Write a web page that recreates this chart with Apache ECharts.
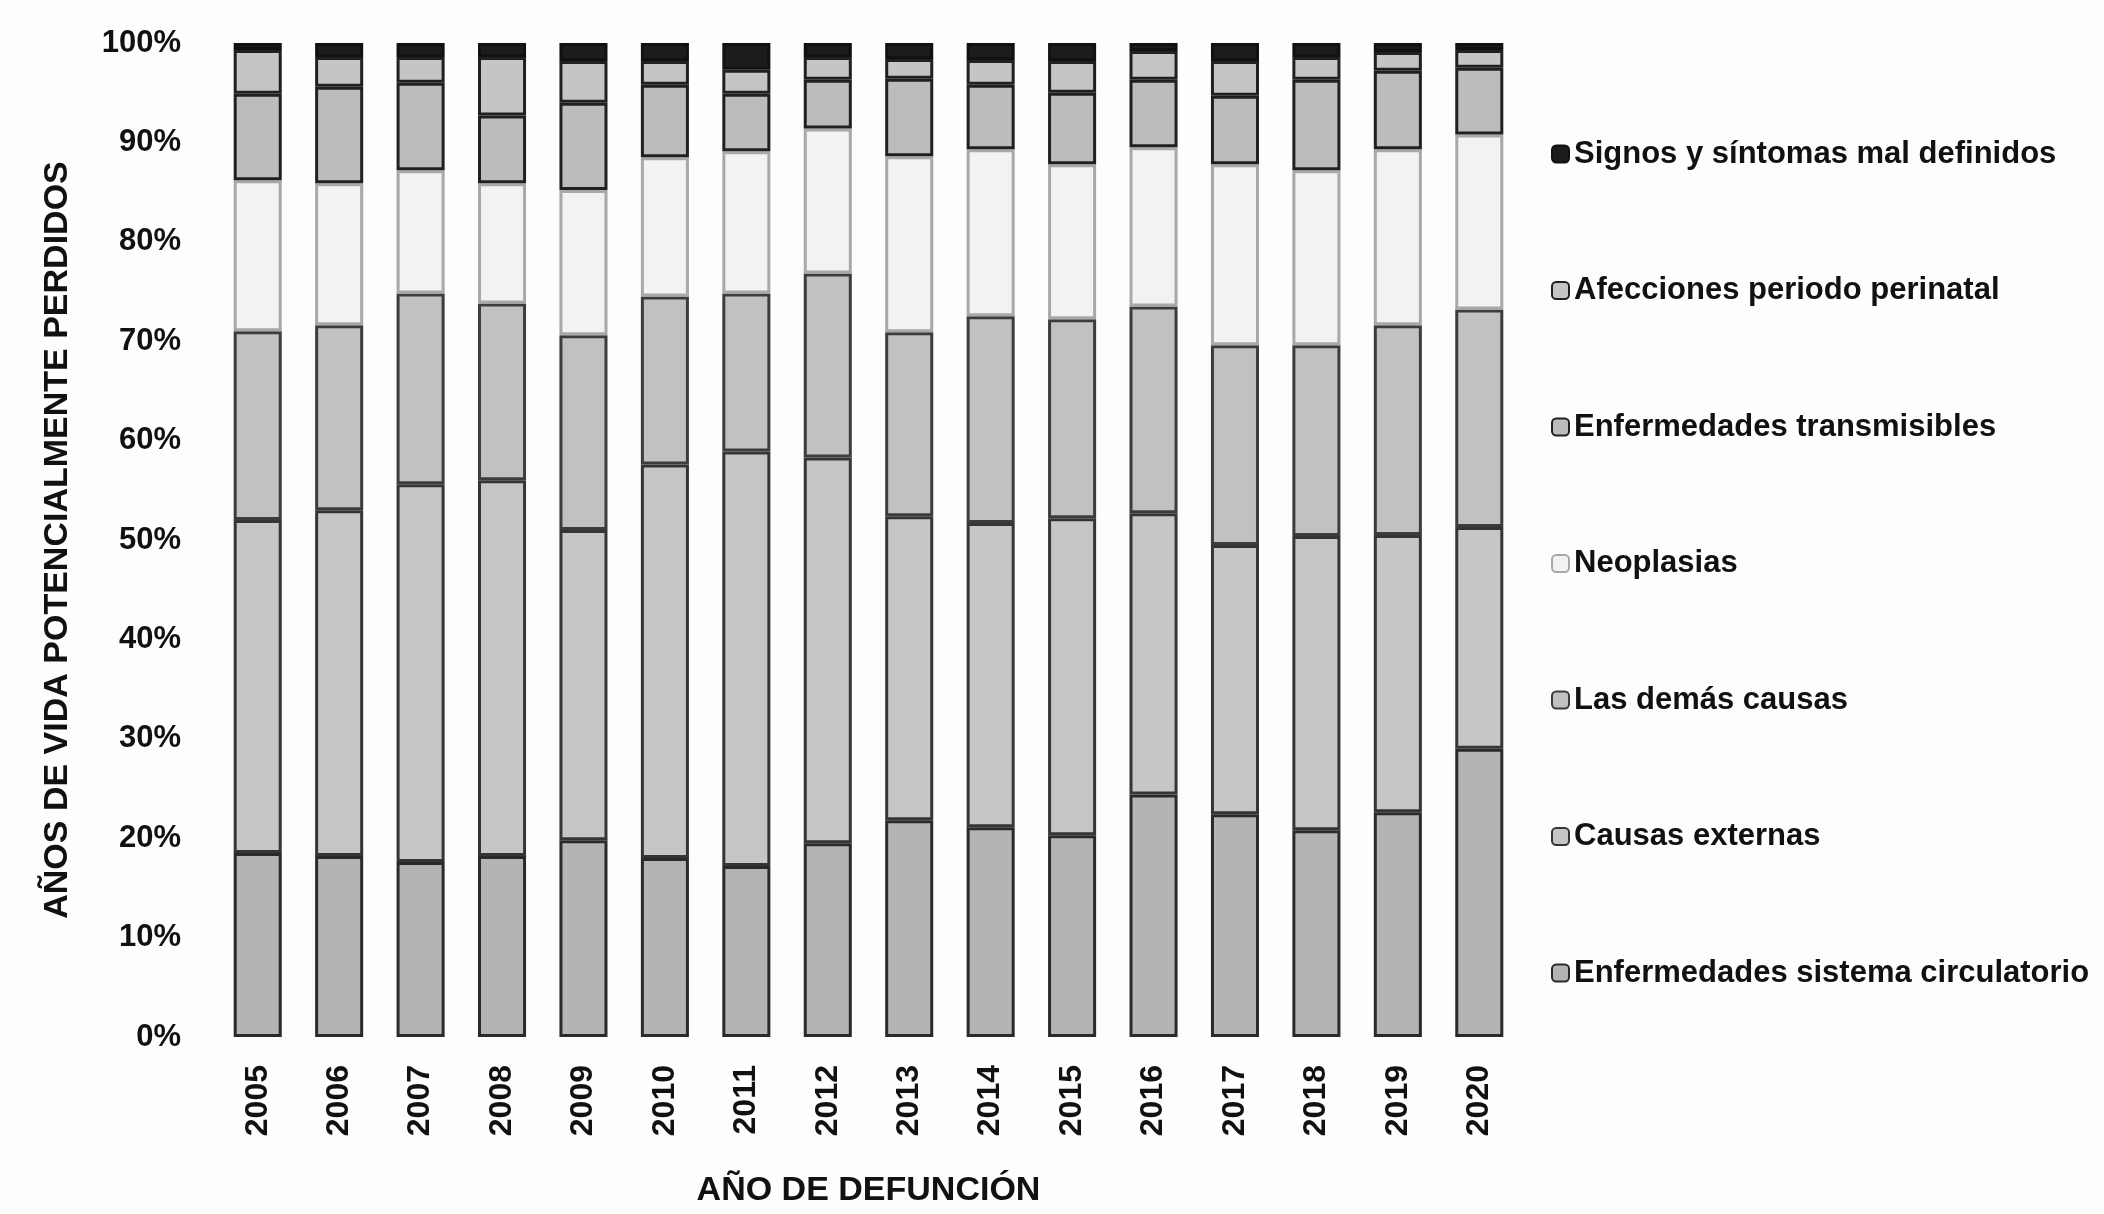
<!DOCTYPE html>
<html>
<head>
<meta charset="utf-8">
<script src="https://cdn.jsdelivr.net/npm/echarts@6/dist/echarts.min.js"></script>
<style>
html,body{margin:0;padding:0;background:#fdfdfd;}
#chart{width:2104px;height:1214px;}
</style>
</head>
<body>
<div id="chart"></div>
<script>
const years = ['2005','2006','2007','2008','2009','2010','2011','2012','2013','2014','2015','2016','2017','2018','2019','2020'];
const yTicks = [0,10,20,30,40,50,60,70,80,90,100];

const circulatorio   = [18.5,18.2,17.6,18.2,19.8,18.0,17.2,19.5,21.8,21.1,20.3,24.4,22.4,20.8,22.6,29.0];
const externas       = [33.5,34.8,38.0,37.8,31.2,39.6,41.7,38.8,30.6,30.6,31.9,28.3,27.1,29.6,27.9,22.3];
const demas          = [19.0,18.6,19.2,17.8,19.6,16.9,15.9,18.5,18.5,20.8,20.0,20.8,20.1,19.2,21.1,21.9];
const neoplasias     = [15.2,14.3,12.4,12.1,14.6,14.0,14.3,14.6,17.7,16.8,15.6,16.0,18.2,17.6,17.7,17.6];
const transmisibles  = [8.7,9.7,8.8,6.8,8.8,7.3,5.8,4.9,7.8,6.5,7.2,6.8,6.9,9.1,7.9,6.7];
const perinatal      = [4.4,3.0,2.6,5.9,4.2,2.4,2.4,2.3,2.0,2.5,3.2,2.9,3.5,2.3,1.9,1.8];
const signos         = [0.7,1.4,1.4,1.4,1.8,1.8,2.7,1.4,1.6,1.7,1.8,0.8,1.8,1.4,0.9,0.7];

const seriesNames = [
  'Enfermedades sistema circulatorio',
  'Causas externas',
  'Las demás causas',
  'Neoplasias',
  'Enfermedades transmisibles',
  'Afecciones periodo perinatal',
  'Signos y síntomas mal definidos'
];
const seriesData = [circulatorio, externas, demas, neoplasias, transmisibles, perinatal, signos];
const fills   = ['#b4b4b4','#c6c6c6','#c1c1c1','#f3f1f3','#bcbcbc','#c5c5c5','#1c1c1c'];
const borders = ['#2a2a2a','#353535','#3c3c3c','#a8a8a8','#202020','#202020','#111111'];

const font = "'Liberation Sans',Arial,sans-serif";

const chart = echarts.init(document.getElementById('chart'));
chart.setOption({
  backgroundColor: '#fdfdfd',
  animation: false,
  grid: {left: 217, right: 584, top: 43, bottom: 177, containLabel: false},
  legend: {
    orient: 'vertical',
    left: 1546,
    top: 133,
    itemWidth: 17,
    itemHeight: 17,
    itemGap: 104.5,
    data: seriesNames.slice().reverse(),
    itemStyle: {borderWidth: 2},
    textStyle: {fontFamily: font, fontWeight: 'bold', fontSize: 31, color: '#111', lineHeight: 32}
  },
  xAxis: {
    type: 'category',
    data: years,
    name: 'AÑO DE DEFUNCIÓN',
    nameLocation: 'middle',
    nameGap: 137,
    nameTextStyle: {fontFamily: font, fontWeight: 'bold', fontSize: 34, color: '#111', verticalAlign: 'top'},
    axisLine: {show: false},
    axisTick: {show: false},
    axisLabel: {rotate: 90, interval: 0, margin: 28, fontFamily: font, fontWeight: 'bold', fontSize: 32, color: '#111'}
  },
  yAxis: {
    type: 'value',
    min: yTicks[0],
    max: yTicks[yTicks.length - 1],
    interval: yTicks[1] - yTicks[0],
    name: 'AÑOS DE VIDA POTENCIALMENTE PERDIDOS',
    nameLocation: 'middle',
    nameRotate: 90,
    nameGap: 142,
    nameTextStyle: {fontFamily: font, fontWeight: 'bold', fontSize: 34, color: '#111'},
    axisLine: {show: false},
    axisTick: {show: false},
    splitLine: {show: false},
    axisLabel: {formatter: '{value}%', margin: 36, fontFamily: font, fontWeight: 'bold', fontSize: 31, color: '#111'}
  },
  series: seriesNames.map((n, i) => ({
    name: n,
    type: 'bar',
    stack: 'total',
    barCategoryGap: '41%',
    data: seriesData[i],
    itemStyle: {color: fills[i], borderColor: borders[i], borderWidth: 3}
  }))
});
</script>
</body>
</html>
